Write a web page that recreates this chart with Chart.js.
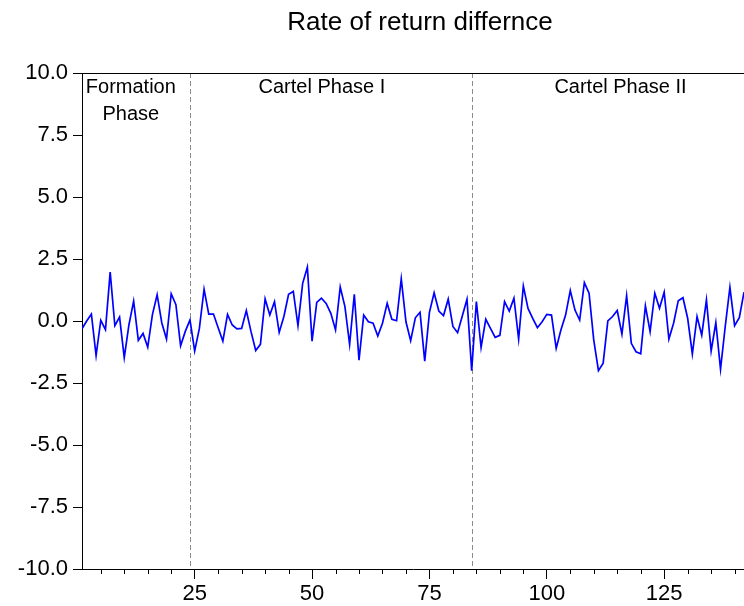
<!DOCTYPE html>
<html lang="en">

<head>
    <meta charset="UTF-8">
    <title>Rate of return differnce</title>
    <script src="https://cdn.jsdelivr.net/npm/chart.js@4.4.1/dist/chart.umd.min.js"></script>
    <style>
        body {
            margin: 0;
            background: #fff;
        }

        canvas {
            display: block;
        }
    </style>
</head>

<body>
    <canvas id="chart" width="744" height="606"></canvas>

    <script>
        // rate of return difference, observations 1..142
        const rateDiff = [
            -0.31, 0.00, 0.28, -1.39, 0.03, -0.35, 1.97, -0.19, 0.16, -1.48,
            -0.15, 0.80, -0.78, -0.50, -1.05, 0.26, 1.06, -0.08, -0.73, 1.10,
            0.66, -1.00, -0.42, 0.04, -1.21, -0.30, 1.28, 0.28, 0.28, -0.27,
            -0.81, 0.27, -0.16, -0.32, -0.30, 0.42, -0.43, -1.19, -0.94, 0.89,
            0.24, 0.78, -0.46, 0.18, 1.08, 1.19, -0.19, 1.52, 2.17, -0.81,
            0.75, 0.92, 0.71, 0.31, -0.36, 1.37, 0.58, -0.94, 1.08, -1.58,
            0.24, -0.03, -0.09, -0.61, -0.09, 0.71, 0.07, 0.01, 1.70, -0.03,
            -0.79, 0.13, 0.35, -1.62, 0.35, 1.14, 0.40, 0.22, 0.88, -0.22,
            -0.47, 0.20, 0.88, -2.00, 0.78, -1.06, 0.07, -0.30, -0.66, -0.58,
            0.78, 0.40, 0.92, -0.73, 1.41, 0.51, 0.11, -0.27, -0.03, 0.27,
            0.24, -1.10, -0.36, 0.24, 1.23, 0.44, 0.04, 1.55, 1.12, -0.77,
            -2.00, -1.70, 0.00, 0.18, 0.42, -0.53, 1.02, -0.90, -1.24, -1.32,
            0.61, -0.43, 1.12, 0.51, 1.16, -0.73, -0.09, 0.82, 0.94, 0.11,
            -1.33, 0.18, -0.57, 0.85, -1.21, -0.07, -1.94, -0.23, 1.36, -0.19,
            0.13, 1.16
        ];
        const obs = rateDiff.map((v, i) => i + 1);

        const xMajorTicks = [25, 50, 75, 100, 125];
        const yTicks = [-10, -7.5, -5, -2.5, 0, 2.5, 5, 7.5, 10];

        // phase boundaries (dashed lines) and phase captions
        const phaseBreaks = [24, 84];
        const phaseNames = [['Formation', 'Phase'], ['Cartel Phase I'], ['Cartel Phase II']];
        const phaseLabelAt = [11.4, 52.1, 115.7];

        const titleText = 'Rate of return differnce';

        Chart.defaults.font.family = "'Liberation Sans', Arial, sans-serif";
        Chart.defaults.color = '#000';

        const extras = {
            id: 'extras',
            beforeDatasetsDraw(chart) {
                const { ctx, chartArea } = chart;
                const xs = chart.scales.x;
                ctx.save();
                ctx.strokeStyle = '#8a8a8a';
                ctx.lineWidth = 1;
                ctx.setLineDash([5, 3]);
                phaseBreaks.forEach(b => {
                    const px = Math.round(xs.getPixelForValue(b)) + 0.5;
                    ctx.beginPath();
                    ctx.moveTo(px, chartArea.top);
                    ctx.lineTo(px, chartArea.bottom);
                    ctx.stroke();
                });
                ctx.restore();
            },
            afterDraw(chart) {
                const { ctx, chartArea } = chart;
                const xs = chart.scales.x;
                const ys = chart.scales.y;
                ctx.save();

                // top frame line
                ctx.strokeStyle = '#000';
                ctx.lineWidth = 1;
                ctx.beginPath();
                ctx.moveTo(chartArea.left, chartArea.top + 0.5);
                ctx.lineTo(chartArea.right, chartArea.top + 0.5);
                ctx.stroke();

                // minor x ticks every 5
                for (let v = 5; v < xs.max; v += 5) {
                    if (v % 25 === 0) continue;
                    const px = Math.round(xs.getPixelForValue(v)) + 0.5;
                    ctx.beginPath();
                    ctx.moveTo(px, chartArea.bottom);
                    ctx.lineTo(px, chartArea.bottom + 5);
                    ctx.stroke();
                }

                // phase captions
                ctx.fillStyle = '#000';
                ctx.textAlign = 'center';
                ctx.textBaseline = 'alphabetic';
                ctx.font = "20px 'Liberation Sans', Arial, sans-serif";
                phaseNames.forEach((lines, i) => {
                    const px = xs.getPixelForValue(phaseLabelAt[i]);
                    lines.forEach((t, j) => {
                        ctx.fillText(t, px, chartArea.top + 20 + j * 26.5);
                    });
                });

                // title
                ctx.font = "26px 'Liberation Sans', Arial, sans-serif";
                ctx.fillText(titleText, (chartArea.left + chartArea.right) / 2 + 7, 30);
                ctx.restore();
            }
        };

        const ctx = document.getElementById('chart').getContext('2d');
        const myChart = new Chart(ctx, {
            type: 'line',
            data: {
                labels: obs,
                datasets: [{
                    label: 'Rate of return differnce',
                    data: rateDiff.map((v, i) => ({ x: obs[i], y: v })),
                    borderColor: '#0000ff',
                    borderWidth: 1.7,
                    pointRadius: 0,
                    tension: 0,
                    fill: false
                }]
            },
            options: {
                responsive: false,
                animation: false,
                devicePixelRatio: 1,
                layout: {
                    padding: { top: 73, right: 0, left: 0, bottom: 0 }
                },
                plugins: {
                    legend: { display: false },
                    title: { display: false },
                    tooltip: { enabled: false }
                },
                scales: {
                    x: {
                        type: 'linear',
                        min: 1,
                        max: 142,
                        afterBuildTicks: scale => {
                            scale.ticks = xMajorTicks.map(v => ({ value: v }));
                        },
                        afterFit: scale => {
                            scale.height = 37;
                        },
                        grid: {
                            drawOnChartArea: false,
                            drawTicks: true,
                            tickLength: 10,
                            color: '#000'
                        },
                        border: { display: true, color: '#000', width: 1 },
                        ticks: {
                            font: { size: 22 },
                            color: '#000',
                            padding: 2,
                            maxRotation: 0,
                            autoSkip: false
                        }
                    },
                    y: {
                        min: -10,
                        max: 10,
                        afterBuildTicks: scale => {
                            scale.ticks = yTicks.map(v => ({ value: v }));
                        },
                        afterFit: scale => {
                            scale.width = 82;
                        },
                        grid: {
                            drawOnChartArea: false,
                            drawTicks: true,
                            tickLength: 9,
                            color: '#000'
                        },
                        border: { display: true, color: '#000', width: 1 },
                        ticks: {
                            font: { size: 22 },
                            color: '#000',
                            padding: 5,
                            callback: function (value) {
                                return Number(value).toFixed(1);
                            }
                        }
                    }
                }
            },
            plugins: [extras]
        });
    </script>

</body>

</html>
